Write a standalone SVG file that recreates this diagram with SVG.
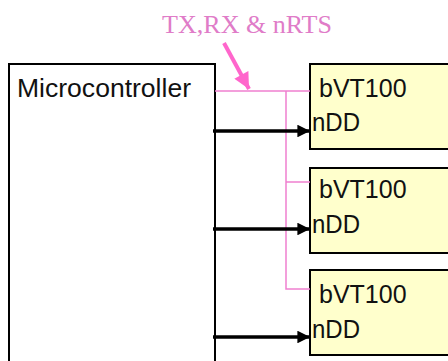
<svg xmlns="http://www.w3.org/2000/svg" width="448" height="361" viewBox="0 0 448 361">
<style>
.box{fill:#ffffff;stroke:#000;stroke-width:2}
.dev{fill:#ffffcc;stroke:#000;stroke-width:2}
.t{font-family:"Liberation Sans",Arial,sans-serif;font-size:25px;fill:#111}
.lbl{font-family:"Liberation Serif","Times New Roman",serif;font-size:25px;fill:#e07cc8}
.pink{stroke:#f080d0;stroke-width:1.5;fill:none}
.blk{stroke:#000;stroke-width:3.5;fill:none}
</style>
<defs>
<marker id="ah" viewBox="0 0 10 10" refX="10" refY="5" markerWidth="5.5" markerHeight="3.6" markerUnits="strokeWidth" orient="auto">
<path d="M0,0 L10,5 L0,10 z" fill="#000"/>
</marker>
<marker id="ph" viewBox="0 0 10 10" refX="10" refY="5" markerWidth="4.5" markerHeight="4" markerUnits="strokeWidth" orient="auto">
<path d="M0,0 L10,5 L0,10 z" fill="#ff66cc"/>
</marker>
</defs>
<rect width="448" height="361" fill="#fff"/>
<g id="microcontroller">
<rect class="box" x="9" y="64" width="206" height="310"/>
<text class="t" x="17" y="97" textLength="174" lengthAdjust="spacingAndGlyphs">Microcontroller</text>
</g>
<g id="bvt100-1">
<rect class="dev" x="310" y="64" width="150" height="85"/>
<text class="t" x="319" y="97">bVT100</text>
<text class="t" x="312" y="131" textLength="48" lengthAdjust="spacingAndGlyphs">nDD</text>
</g>
<g id="bvt100-2">
<rect class="dev" x="310" y="168" width="150" height="85"/>
<text class="t" x="319" y="198">bVT100</text>
<text class="t" x="312" y="233" textLength="48" lengthAdjust="spacingAndGlyphs">nDD</text>
</g>
<g id="bvt100-3">
<rect class="dev" x="310" y="270" width="150" height="85"/>
<text class="t" x="319" y="303">bVT100</text>
<text class="t" x="312" y="338" textLength="48" lengthAdjust="spacingAndGlyphs">nDD</text>
</g>
<g id="label">
<text class="lbl" x="162" y="33" textLength="170" lengthAdjust="spacingAndGlyphs">TX,RX &amp; nRTS</text>
</g>
<g id="connectors">
<path class="pink" d="M215,91 H310 M286,91 V289 H310 M286,182 H310"/>
<line x1="224" y1="43" x2="249" y2="89" stroke="#ff66cc" stroke-width="4" marker-end="url(#ph)"/>
<line class="blk" x1="213" y1="131" x2="310" y2="131" marker-end="url(#ah)"/>
<line class="blk" x1="213" y1="229" x2="310" y2="229" marker-end="url(#ah)"/>
<line class="blk" x1="213" y1="337" x2="310" y2="337" marker-end="url(#ah)"/>
</g>
</svg>
